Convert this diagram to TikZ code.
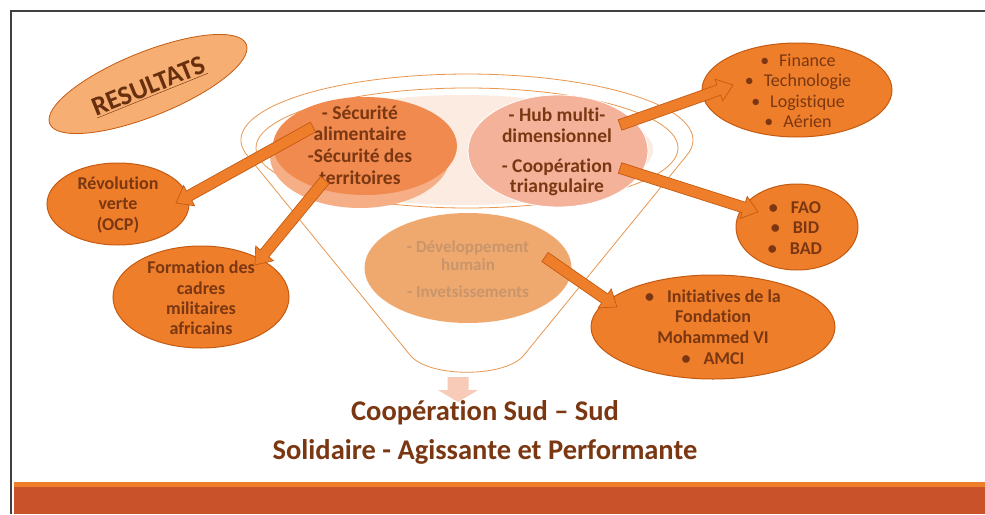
\documentclass[tikz,border=0pt]{standalone}
\usepackage{fontspec}
\setmainfont{Carlito}[Ligatures=NoCommon]
\usetikzlibrary{shapes.geometric,calc}
\definecolor{orgfill}{HTML}{EE7E2A}
\definecolor{orgline}{HTML}{C55A11}
\definecolor{brownt}{HTML}{7A3712}
\definecolor{darkcirc}{HTML}{F08A4E}
\definecolor{darkcircb}{HTML}{F5AE85}
\definecolor{salmon}{HTML}{F4B29A}
\definecolor{peach}{HTML}{FCEBE1}
\definecolor{devfill}{HTML}{EFA96F}
\definecolor{devtext}{HTML}{C9956B}
\definecolor{resfill}{HTML}{F6AE72}
\definecolor{pinkarr}{HTML}{F8CBB8}
\definecolor{band}{HTML}{C9522B}
\definecolor{bandtop}{HTML}{EE7E2A}
\definecolor{funnel}{HTML}{E9964F}
\newcommand\blockarrow[6][]{%
 \coordinate (ba-h) at ($(#3)!#6!(#2)$);
 \filldraw[barrow,#1] ($(#2)!#4!90:(#3)$) -- ($(ba-h)!#4!90:(#3)$) -- ($(ba-h)!#5!90:(#3)$) -- (#3)
   -- ($(ba-h)!#5!-90:(#3)$) -- ($(ba-h)!#4!-90:(#3)$) -- ($(#2)!#4!-90:(#3)$) -- cycle;}
\tikzset{
 barrow/.style={fill=orgfill,draw=orgline,line width=0.7pt,line join=miter},
 oval/.style={ellipse,fill=orgfill,draw=orgline,line width=1pt,inner sep=0pt},
 btxt/.style={text=brownt,font=\bfseries\fontsize{18}{20.3}\selectfont,align=center,inner sep=0pt},
 ntxt/.style={text=brownt,font=\fontsize{18}{20.3}\selectfont,align=center,inner sep=0pt},
 ctxt/.style={text=brownt,font=\bfseries\fontsize{19.5}{20.5}\selectfont,align=center,inner sep=0pt},
 ttxt/.style={text=brownt,font=\bfseries\fontsize{28.5}{32}\selectfont,inner sep=0pt},
}
\begin{document}
\begin{tikzpicture}[x=1pt,y=-1pt]
\useasboundingbox (0,0) rectangle (985,514);
\fill[white] (0,0) rectangle (985,514);
% frame and band
\draw[line width=1.3pt,black!75] (11,514) -- (11,11) -- (985,11);
\fill[band] (14,484) rectangle (985,514);
\fill[bandtop] (14,482) rectangle (985,487);
% funnel
\draw[funnel,line width=0.8pt] (247.7,156) arc[start angle=166,end angle=374,x radius=226,y radius=66]
   -- (524,355) .. controls (506,378) and (428,378) .. (410,355) -- cycle;
\draw[funnel,line width=0.8pt,fill=white] (467,148) ellipse [x radius=211,y radius=60];
\fill[peach] (463,150) ellipse [x radius=190,y radius=55];
% inner circles
\fill[darkcircb] (360,156) ellipse [x radius=90,y radius=52];
\node[ellipse,fill=darkcirc,minimum width=184pt,minimum height=98pt,inner sep=0pt] (sec) at (365,146) {};
\node[ellipse,fill=salmon,draw=white,line width=0.8pt,minimum width=180pt,minimum height=112pt,inner sep=0pt] (hub) at (558,151) {};
\node[ellipse,fill=devfill,minimum width=207pt,minimum height=110pt,inner sep=0pt] (dev) at (468,268) {};
\node[ctxt,font=\bfseries\fontsize{19.5}{21.7}\selectfont] (sect) at (360,145) {- Sécurité\\alimentaire\\-Sécurité des\\territoires};
\node[ctxt] (hubt) at (557,152) {- Hub multi-\\dimensionnel\\[9.5pt]- Coopération\\triangulaire};
\node[ctxt,text=devtext,font=\bfseries\fontsize{17}{18}\selectfont] (devt) at (468,269) {- Développement\\humain\\[9pt]- Invetsissements};
% RESULTATS
\node[ellipse,fill=resfill,draw=orgline,line width=0.8pt,minimum width=212pt,minimum height=64pt,inner sep=0pt,rotate=22] (res) at (148,84) {};
\node[text=brownt!85!black,font=\bfseries\fontsize{27}{30}\selectfont,rotate=22,inner sep=0pt] (rest) at (149,87) {\underline{RESULTATS}};
% outer ovals
\node[oval,minimum width=190pt,minimum height=94pt] (fin) at (797,90) {};
\node[ntxt] (fint) at (798,91) {\textbullet\hspace{10pt}Finance\\\textbullet\hspace{10pt}Technologie\\\textbullet\hspace{10pt}Logistique\\\textbullet\hspace{10pt}Aérien};
\node[oval,minimum width=122pt,minimum height=86pt] (fao) at (797,227) {};
\node[btxt] (faot) at (795,228) {\textbullet\hspace{13pt}FAO\\\textbullet\hspace{13pt}BID\\\textbullet\hspace{13pt}BAD};
\node[oval,minimum width=142pt,minimum height=82pt] (rev) at (118,204) {};
\node[btxt] (revt) at (118,205) {Révolution\\verte\\(OCP)};
\node[oval,minimum width=176pt,minimum height=102pt] (form) at (201,297) {};
\node[btxt] (formt) at (201,298) {Formation des\\cadres\\militaires\\africains};
\node[oval,minimum width=244pt,minimum height=104pt] (init) at (713,327) {};
\node[btxt,font=\bfseries\fontsize{18}{20.6}\selectfont] (initt) at (713,327) {\textbullet\hspace{13pt}Initiatives de la\\Fondation\\Mohammed VI\\\textbullet\hspace{13pt}AMCI};
% arrows
\coordinate (a1s) at (313,127); \coordinate (a1e) at (176,203);
\coordinate (a2s) at (325,180); \coordinate (a2e) at (255,265);
\coordinate (a3s) at (620,125); \coordinate (a3e) at (733,85);
\coordinate (a4s) at (620,168); \coordinate (a4e) at (758,212);
\coordinate (a5s) at (545,257); \coordinate (a5e) at (617,307);
\blockarrow{a1s}{a1e}{5.5pt}{11.5pt}{15pt}
\blockarrow{a2s}{a2e}{5.5pt}{11.5pt}{15pt}
\blockarrow{a3s}{a3e}{5.5pt}{11.5pt}{15pt}
\blockarrow{a4s}{a4e}{5.5pt}{11.5pt}{15pt}
\blockarrow{a5s}{a5e}{5.5pt}{11.5pt}{15pt}
% bottom
\coordinate (ds) at (458,377); \coordinate (de) at (458,402);
\blockarrow[fill=pinkarr,draw=none]{ds}{de}{10.5pt}{20pt}{12pt}
\node[ttxt] (t1) at (485,413) {Coopération Sud – Sud};
\node[ttxt] (t2) at (485,452) {Solidaire - Agissante et Performante};
\end{tikzpicture}
\end{document}
